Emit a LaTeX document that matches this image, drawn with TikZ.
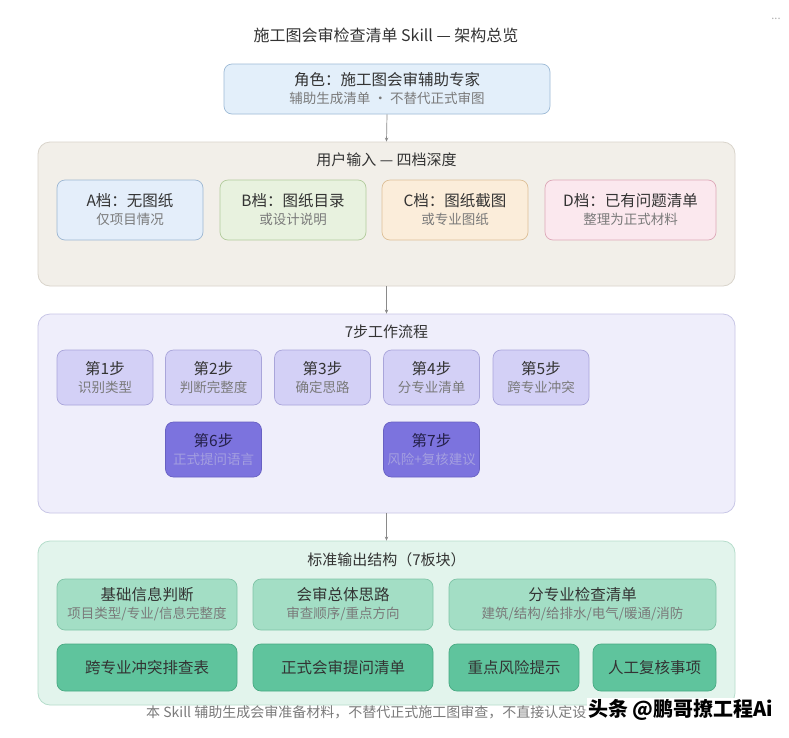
\documentclass[tikz,border=0pt]{standalone}
\usepackage{fontspec}
\setmainfont{Noto Sans CJK SC}
\usetikzlibrary{arrows.meta}
\definecolor{txt}{HTML}{333333}
\definecolor{subc}{HTML}{7A7A7A}
\definecolor{rolefill}{HTML}{E3EFFA}\definecolor{roledraw}{HTML}{9DBAD6}
\definecolor{inputfill}{HTML}{F2EFE9}\definecolor{inputdraw}{HTML}{D9D4CB}
\definecolor{Afill}{HTML}{E4EEFA}\definecolor{Adraw}{HTML}{9DB7D2}
\definecolor{Bfill}{HTML}{E8F2DF}\definecolor{Bdraw}{HTML}{B2CB9C}
\definecolor{Cfill}{HTML}{FBEDDA}\definecolor{Cdraw}{HTML}{DDBF97}
\definecolor{Dfill}{HTML}{FBE8EE}\definecolor{Ddraw}{HTML}{DDA8B8}
\definecolor{stepsfill}{HTML}{EFEEFB}\definecolor{stepsdraw}{HTML}{C8C6E6}
\definecolor{sAfill}{HTML}{D3D0F6}\definecolor{sAdraw}{HTML}{A9A5DA}
\definecolor{sBfill}{HTML}{7C73DE}\definecolor{sBdraw}{HTML}{6760C2}
\definecolor{sBsub}{HTML}{A49FE0}\definecolor{sBtxt}{HTML}{24204A}
\definecolor{outfill}{HTML}{E2F4EC}\definecolor{outdraw}{HTML}{B5DDCB}
\definecolor{oAfill}{HTML}{A3DEC5}\definecolor{oAdraw}{HTML}{7FC4A6}
\definecolor{oBfill}{HTML}{5FC49D}\definecolor{oBdraw}{HTML}{48A982}
\definecolor{arrc}{HTML}{8A8A8A}
\newcommand{\mtx}[1]{{\fontsize{15.5}{18}\selectfont #1}}
\newcommand{\stx}[1]{{\fontsize{13.5}{18}\selectfont\color{subc}#1}}
\newcommand{\stb}[1]{{\fontsize{13.5}{18}\selectfont\color{sBsub}#1}}
\tikzset{
  container/.style={draw, rounded corners=12pt, line width=0.8pt},
  box/.style={draw, rounded corners=8pt, line width=0.7pt, align=center, text=txt,
    font=\fontsize{14}{18}\selectfont, inner sep=0pt},
  ttl/.style={text=txt, font=\fontsize{15}{18}\selectfont, inner sep=0pt},
  arr/.style={draw=arrc, line width=0.7pt, -{Stealth[length=4pt,width=3.5pt]}}
}
\begin{document}
\begin{tikzpicture}[x=1pt,y=-1pt]
\useasboundingbox[fill=white] (0,0) rectangle (789,737);
\node[ttl, font=\fontsize{16}{18}\selectfont] (title) at (386,35) {施工图会审检查清单 Skill — 架构总览};
\node[text=arrc!70, font=\fontsize{11}{12}\selectfont, inner sep=0pt] (dots) at (776,19) {...};
% role
\node[box, fill=rolefill, draw=roledraw, minimum width=326pt, minimum height=50pt] (role) at (387,89)
  {\mtx{角色：施工图会审辅助专家}\\\stx{辅助生成清单 · 不替代正式审图}};
% input container
\node[container, fill=inputfill, draw=inputdraw, minimum width=697pt, minimum height=144pt] (input) at (386.5,214) {};
\node[ttl] (inputt) at (386.5,160) {用户输入 — 四档深度};
\node[box, fill=Afill, draw=Adraw, minimum width=146pt, minimum height=60pt] (A) at (130,210)
  {\mtx{A档：无图纸}\\\stx{仅项目情况}};
\node[box, fill=Bfill, draw=Bdraw, minimum width=146pt, minimum height=60pt] (B) at (293,210)
  {\mtx{B档：图纸目录}\\\stx{或设计说明}};
\node[box, fill=Cfill, draw=Cdraw, minimum width=146pt, minimum height=60pt] (C) at (455,210)
  {\mtx{C档：图纸截图}\\\stx{或专业图纸}};
\node[box, fill=Dfill, draw=Ddraw, minimum width=171pt, minimum height=60pt] (D) at (630.5,210)
  {\mtx{D档：已有问题清单}\\\stx{整理为正式材料}};
% steps container
\node[container, fill=stepsfill, draw=stepsdraw, minimum width=697pt, minimum height=199pt] (steps) at (386.5,413.5) {};
\node[ttl] (stepst) at (386.5,332) {7步工作流程};
\tikzset{sa/.style={box, fill=sAfill, draw=sAdraw, minimum width=96pt, minimum height=55pt},
         sb/.style={box, fill=sBfill, draw=sBdraw, minimum width=96pt, minimum height=55pt, text=sBtxt}}
\node[sa] (s1) at (105,377.5) {\mtx{第1步}\\\stx{识别类型}};
\node[sa] (s2) at (213.5,377.5) {\mtx{第2步}\\\stx{判断完整度}};
\node[sa] (s3) at (322.5,377.5) {\mtx{第3步}\\\stx{确定思路}};
\node[sa] (s4) at (431.5,377.5) {\mtx{第4步}\\\stx{分专业清单}};
\node[sa] (s5) at (541,377.5) {\mtx{第5步}\\\stx{跨专业冲突}};
\node[sb] (s6) at (213.5,449.5) {\mtx{第6步}\\\stb{正式提问语言}};
\node[sb] (s7) at (431.5,449.5) {\mtx{第7步}\\\stb{风险+复核建议}};
% output container
\node[container, fill=outfill, draw=outdraw, minimum width=697pt, minimum height=164pt] (out) at (386.5,623) {};
\node[ttl] (outt) at (386.5,560) {标准输出结构（7板块）};
\tikzset{oa/.style={box, fill=oAfill, draw=oAdraw, minimum height=51pt},
         ob/.style={box, fill=oBfill, draw=oBdraw, minimum height=47pt}}
\node[oa, minimum width=180pt] (o1) at (147,604.5) {\mtx{基础信息判断}\\\stx{项目类型/专业/信息完整度}};
\node[oa, minimum width=180pt] (o2) at (343,604.5) {\mtx{会审总体思路}\\\stx{审查顺序/重点方向}};
\node[oa, minimum width=267pt] (o3) at (582.5,604.5) {\mtx{分专业检查清单}\\\stx{建筑/结构/给排水/电气/暖通/消防}};
\node[ob, minimum width=180pt] (o4) at (147,667.5) {\mtx{跨专业冲突排查表}};
\node[ob, minimum width=180pt] (o5) at (343,667.5) {\mtx{正式会审提问清单}};
\node[ob, minimum width=130pt] (o6) at (514,667.5) {\mtx{重点风险提示}};
\node[ob, minimum width=123pt] (o7) at (654.5,667.5) {\mtx{人工复核事项}};
% arrows
\draw[arr] (role.south) -- (input.north);
\draw[arr] (input.south) -- (steps.north);
\draw[arr] (steps.south) -- (out.north);
% footer
\node[anchor=west, text=subc, font=\fontsize{14}{16}\selectfont, inner sep=0pt] (foot) at (146,712)
  {本 Skill 辅助生成会审准备材料，不替代正式施工图审查，不直接认定设计};
\node[anchor=west, fill=white, text=black, font=\fontsize{20}{22}\selectfont\bfseries, inner sep=1pt] (wm) at (587,710)
  {头条 @鹏哥撩工程Ai};
\end{tikzpicture}
\end{document}
